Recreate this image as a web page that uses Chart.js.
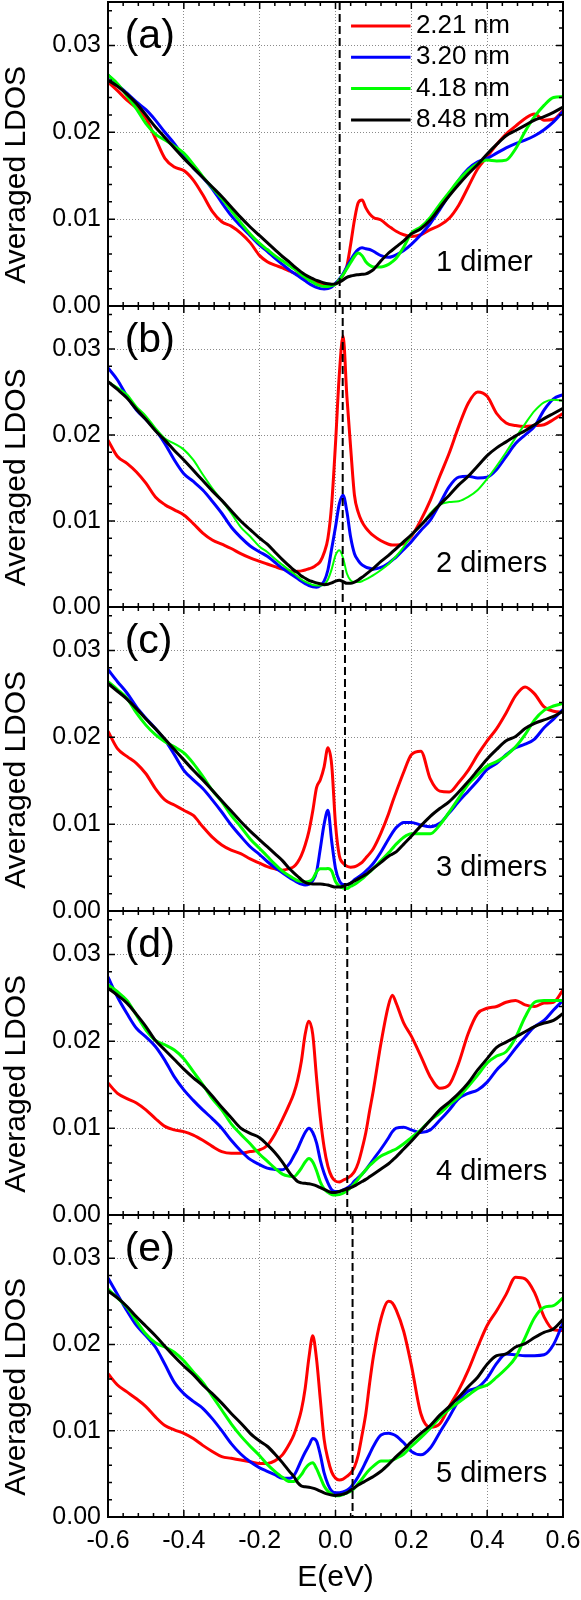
<!DOCTYPE html>
<html>
<head>
<meta charset="utf-8">
<script src="https://cdn.jsdelivr.net/npm/chart.js@4.4.1/dist/chart.umd.min.js"></script>
<style>
html, body { margin: 0; padding: 0; background: #fff; overflow: hidden; }
#wrap { position: relative; width: 581px; height: 1600px; }
#wrap canvas { position: absolute; left: 0; }
</style>
</head>
<body>
<div id="wrap"></div>
<script>
// energy grid, eV
var energy = [-0.6, -0.575, -0.55, -0.525, -0.5, -0.475, -0.45, -0.425, -0.4, -0.375, -0.35, -0.325, -0.3, -0.275, -0.25, -0.225, -0.2,
  -0.18, -0.16, -0.14, -0.12,
  -0.11, -0.1, -0.09, -0.08, -0.07, -0.06, -0.05, -0.04, -0.03, -0.02, -0.01, 0, 0.01, 0.02, 0.03, 0.04, 0.05, 0.06, 0.07, 0.08, 0.09, 0.1,
  0.12, 0.14, 0.15, 0.16, 0.18,
  0.2, 0.225, 0.25, 0.275, 0.3, 0.325, 0.35, 0.375, 0.4, 0.425, 0.45, 0.475, 0.5, 0.525, 0.55, 0.575, 0.6];

// averaged LDOS, in units of 1e-3
// (a) 1 dimer
var a221 = [25.8, 24.8, 23.7, 22.8, 21.6, 19.3, 17.0, 16.0, 15.6, 14.5, 12.8, 10.9, 9.7, 9.2, 8.4, 7.3, 5.8,
  5.1, 4.7, 4.4, 4.0,
  3.8, 3.6, 3.4, 3.2, 3.05, 2.9, 2.75, 2.6, 2.5, 2.45, 2.45, 2.55, 2.9, 3.6, 4.6, 7.1, 9.9, 11.9, 12.2, 11.3, 10.6, 10.2,
  9.9, 9.2, 8.9, 8.6, 8.2,
  8.0, 8.2, 8.8, 9.3, 10.1, 11.6, 13.7, 15.8, 17.2, 18.6, 19.8, 20.7, 21.6, 22.1, 21.4, 21.5, 22.5];
var a320 = [26.6, 25.5, 24.5, 23.5, 22.6, 21.4, 20.0, 18.7, 17.2, 15.9, 14.8, 13.5, 11.9, 10.4, 9.2, 8.1, 7.0,
  6.3, 5.5, 4.8, 4.1,
  3.8, 3.5, 3.2, 2.9, 2.6, 2.35, 2.15, 2.0, 1.95, 2.0, 2.2, 2.6, 3.1, 3.7, 4.5, 5.3, 6.0, 6.5, 6.7, 6.6, 6.5, 6.3,
  5.8, 5.6, 5.7, 5.9, 6.4,
  7.1, 8.2, 9.5, 11.1, 12.8, 14.5, 15.8, 16.6, 17.0, 17.6, 18.2, 18.7, 19.1, 19.6, 20.3, 21.2, 22.4];
var a418 = [26.6, 25.6, 24.2, 22.7, 21.0, 19.8, 19.1, 18.4, 17.6, 16.3, 14.9, 13.6, 12.4, 11.0, 9.6, 8.3, 7.2,
  6.5, 5.8, 5.2, 4.6,
  4.3, 3.95, 3.6, 3.3, 3.0, 2.75, 2.5, 2.35, 2.25, 2.25, 2.35, 2.5, 3.0, 3.6, 4.3, 5.0, 5.7, 6.1, 5.8, 5.1, 4.7, 4.5,
  4.5, 4.8, 5.1, 5.5, 6.8,
  8.4, 9.1, 10.2, 11.7, 13.1, 14.5, 15.6, 16.4, 16.8, 16.7, 16.8, 18.1, 20.1, 21.8, 23.1, 24.0, 24.1];
var a848 = [26.0, 25.3, 24.4, 23.3, 22.0, 20.6, 19.4, 18.2, 17.0, 15.9, 14.8, 13.7, 12.6, 11.4, 10.2, 9.1, 8.1,
  7.3, 6.5, 5.7, 5.0,
  4.6, 4.25, 3.9, 3.6, 3.35, 3.15, 2.95, 2.8, 2.65, 2.55, 2.5, 2.55, 2.75, 3.0, 3.3, 3.45, 3.55, 3.6, 3.65, 3.7, 3.9, 4.2,
  5.2, 6.1, 6.45, 6.8, 7.5,
  8.3, 8.9, 9.9, 11.3, 12.7, 14.0, 15.2, 16.3, 17.5, 18.6, 19.6, 20.2, 20.8, 21.4, 21.8, 22.3, 22.9];

// (b) 2 dimers
var b221 = [19.4, 17.5, 16.7, 15.7, 14.4, 12.8, 11.9, 11.3, 10.7, 9.7, 8.6, 7.8, 7.3, 6.8, 6.2, 5.7, 5.3,
  5.0, 4.7, 4.4, 4.2,
  4.1, 4.15, 4.2, 4.3, 4.45, 4.6, 4.9, 5.3, 6.3, 8.0, 12.0, 19.0, 27.0, 31.5, 24.5, 18.5, 13.0, 11.0, 9.9, 9.2, 8.7, 8.3,
  7.7, 7.3, 7.2, 7.2, 7.4,
  8.2, 10.1, 12.4, 15.2, 17.9, 21.0, 23.7, 25.0, 24.5, 22.5, 21.4, 21.1, 21.0, 21.1, 21.2, 21.8, 22.5];
var b320 = [27.8, 26.4, 24.5, 22.9, 21.8, 20.6, 19.0, 17.1, 15.5, 14.6, 13.6, 12.3, 10.9, 9.3, 8.1, 7.1, 6.4,
  5.9, 5.2, 4.5, 3.9,
  3.6, 3.3, 3.0, 2.7, 2.5, 2.35, 2.3, 2.5, 3.0, 4.3, 6.8, 9.3, 12.0, 13.0, 11.1, 8.1, 6.2, 5.4, 4.9, 4.65, 4.5, 4.4,
  4.6, 5.1, 5.45, 5.8, 6.7,
  7.6, 8.9, 10.1, 12.0, 14.0, 15.1, 15.2, 15.0, 15.1, 16.0, 17.5, 19.0, 20.0, 21.0, 22.9, 24.2, 24.7];
var b418 = [26.2, 25.5, 24.7, 23.3, 22.2, 20.8, 19.6, 19.0, 18.3, 17.1, 15.4, 13.8, 12.4, 10.9, 9.3, 8.2, 7.0,
  6.4, 5.6, 4.9, 4.2,
  3.9, 3.55, 3.2, 2.95, 2.75, 2.55, 2.5, 2.5, 2.6, 3.2, 4.4, 6.0, 6.6, 5.7, 3.9, 3.1, 2.9, 2.9, 3.0, 3.2, 3.45, 3.7,
  4.3, 5.0, 5.45, 5.9, 7.0,
  8.3, 9.5, 10.9, 11.9, 12.2, 12.3, 12.8, 13.6, 14.9, 16.4, 18.0, 19.7, 21.3, 22.8, 23.8, 24.1, 24.0];
var b848 = [26.2, 25.3, 24.3, 23.0, 21.8, 20.5, 19.4, 18.2, 17.1, 15.9, 14.7, 13.5, 12.4, 11.2, 10.0, 9.0, 8.0,
  7.3, 6.4, 5.5, 4.7,
  4.3, 4.0, 3.6, 3.35, 3.1, 2.95, 2.8, 2.7, 2.6, 2.65, 2.8, 3.0, 3.1, 2.95, 2.75, 2.75, 2.9, 3.15, 3.45, 3.8, 4.15, 4.5,
  5.3, 6.0, 6.4, 6.8, 7.6,
  8.4, 9.5, 10.7, 11.9, 13.0, 14.2, 15.2, 16.4, 17.6, 18.5, 19.2, 19.9, 20.5, 21.2, 21.9, 22.5, 23.1];

// (c) 3 dimers
var c221 = [20.7, 18.7, 17.8, 17.0, 15.8, 14.1, 12.8, 12.2, 11.6, 11.0, 9.7, 8.5, 7.6, 7.0, 6.6, 6.0, 5.5,
  5.1, 4.85, 4.7, 4.9,
  5.1, 5.6, 6.4, 7.6, 9.2, 11.5, 14.2, 15.1, 16.6, 18.8, 16.8, 10.0, 6.4, 5.5, 5.15, 5.05, 5.1, 5.3, 5.6, 6.1, 6.6, 7.2,
  9.0, 11.2, 12.5, 13.7, 16.0,
  18.0, 18.4, 15.2, 13.8, 13.7, 14.8, 16.2, 18.0, 19.6, 21.0, 22.8, 24.8, 25.8, 25.0, 23.5, 23.0, 22.9];
var c320 = [27.8, 26.4, 25.1, 23.5, 22.2, 21.0, 19.7, 18.0, 16.2, 15.1, 14.1, 12.8, 11.4, 9.9, 8.6, 7.4, 6.5,
  5.7, 5.0, 4.4, 3.8,
  3.55, 3.3, 3.1, 3.0, 3.1, 3.5, 4.5, 7.2, 10.0, 11.6, 8.0, 4.9, 3.5, 3.05, 3.05, 3.2, 3.6, 3.9, 4.2, 4.6, 5.0, 5.5,
  6.8, 8.3, 9.0, 9.6, 10.2,
  10.2, 9.9, 9.7, 10.1, 11.3, 12.6, 13.8, 15.0, 16.3, 17.0, 18.0, 18.8, 19.2, 19.8, 21.1, 22.1, 23.2];
var c418 = [26.4, 25.5, 24.5, 22.8, 21.4, 20.3, 19.5, 18.9, 18.2, 17.0, 15.5, 13.9, 12.6, 11.0, 9.7, 8.3, 7.2,
  6.3, 5.4, 4.6, 4.0,
  3.75, 3.5, 3.4, 3.35, 3.4, 3.7, 4.5, 4.85, 4.85, 4.9, 4.6, 3.4, 2.85, 2.65, 2.6, 2.85, 3.05, 3.35, 3.7, 4.1, 4.5, 4.9,
  5.8, 6.7, 7.2, 7.7, 8.5,
  8.9, 8.9, 8.9, 9.9, 11.4, 13.0, 14.6, 15.7, 16.7, 17.2, 17.9, 18.9, 20.3, 22.0, 23.1, 23.6, 23.9];
var c848 = [26.2, 25.3, 24.4, 23.3, 22.1, 21.0, 19.8, 18.6, 17.4, 16.2, 15.1, 13.9, 12.7, 11.5, 10.3, 9.2, 8.2,
  7.4, 6.6, 5.8, 4.8,
  4.4, 4.0, 3.6, 3.3, 3.15, 3.1, 3.1, 3.1, 3.05, 3.0, 2.85, 2.75, 2.75, 2.85, 3.0, 3.2, 3.45, 3.7, 3.95, 4.2, 4.55, 4.9,
  5.6, 6.3, 6.55, 6.8, 7.7,
  8.6, 9.8, 10.9, 11.8, 12.6, 13.7, 14.9, 16.2, 17.5, 18.6, 19.6, 20.1, 21.0, 21.6, 22.0, 22.4, 23.0];

// (d) 4 dimers
var d221 = [15.2, 14.0, 13.4, 12.9, 12.1, 11.1, 10.2, 9.8, 9.6, 9.2, 8.6, 7.9, 7.3, 7.1, 7.1, 7.3, 7.5,
  8.0, 9.3, 11.0, 12.9,
  14.0, 15.5, 17.7, 20.8, 22.3, 20.8, 15.8, 11.2, 7.8, 5.6, 4.4, 3.9, 3.8, 4.0, 4.2, 4.5, 5.0, 6.0, 7.6, 9.5, 12.0, 14.4,
  19.8, 24.2, 25.3, 24.4, 22.1,
  20.6, 18.3, 15.9, 14.6, 15.0, 17.5, 20.9, 23.2, 23.8, 24.0, 24.5, 24.7, 24.2, 24.0, 24.4, 24.5, 25.9];
var d320 = [27.4, 25.1, 23.2, 21.5, 20.5, 19.4, 17.8, 15.9, 14.4, 13.2, 12.1, 11.1, 10.0, 8.6, 7.4, 6.4, 5.8,
  5.4, 5.25, 5.2, 6.0,
  6.8, 7.6, 8.6, 9.5, 10.0, 9.5, 8.3, 6.3, 4.8, 3.7, 2.9, 2.7, 2.7, 2.9, 3.1, 3.4, 3.9, 4.3, 4.7, 5.2, 5.8, 6.4,
  7.6, 8.9, 9.6, 10.0, 10.1,
  9.8, 9.5, 9.8, 10.9, 12.1, 13.4, 14.0, 14.4, 15.3, 16.7, 17.8, 19.2, 20.5, 21.7, 22.4, 23.6, 24.7];
var d418 = [26.5, 25.7, 24.7, 23.0, 21.3, 20.1, 19.6, 19.0, 18.0, 16.5, 15.0, 13.4, 12.1, 10.5, 9.3, 8.2, 7.0,
  6.2, 5.4, 4.7, 4.45,
  4.4, 4.8, 5.4, 6.1, 6.5, 6.1, 5.1, 3.8, 3.0, 2.6, 2.35, 2.3, 2.35, 2.5, 2.8, 3.15, 3.6, 4.15, 4.7, 5.2, 5.7, 6.1,
  6.8, 7.2, 7.4, 7.6, 8.2,
  8.9, 9.8, 10.9, 11.7, 12.7, 13.6, 14.8, 16.1, 17.5, 18.3, 18.8, 20.4, 22.8, 24.5, 24.7, 24.7, 24.7];
var d848 = [26.1, 25.3, 24.4, 23.1, 21.7, 20.1, 19.0, 17.9, 16.8, 15.8, 14.9, 13.7, 12.4, 11.2, 10.0, 9.4, 8.9,
  8.1, 7.2, 6.1, 4.8,
  4.3, 3.85, 3.7, 3.65, 3.6, 3.5, 3.35, 3.15, 2.95, 2.75, 2.6, 2.6, 2.7, 2.85, 3.0, 3.15, 3.35, 3.6, 3.85, 4.1, 4.4, 4.7,
  5.3, 5.9, 6.3, 6.7, 7.6,
  8.5, 9.7, 10.9, 12.1, 13.0, 14.0, 15.2, 16.7, 18.0, 19.3, 19.9, 20.5, 21.1, 21.7, 22.1, 22.4, 23.2];

// (e) 5 dimers
var e221 = [16.6, 15.3, 14.5, 13.7, 12.8, 11.6, 10.6, 10.1, 9.7, 9.1, 8.3, 7.6, 7.0, 6.8, 6.6, 6.4, 6.2,
  6.2, 6.5, 7.2, 8.6,
  9.5, 10.8, 12.4, 14.9, 18.5, 21.0, 18.3, 13.6, 9.0, 6.7, 5.2, 4.5, 4.3, 4.4, 4.7, 5.1, 5.8, 7.2, 9.5, 12.0, 15.5, 18.6,
  23.0, 25.0, 24.8, 24.0, 21.5,
  17.6, 12.0, 10.4, 10.8, 12.8, 14.7, 17.0, 19.7, 22.2, 23.9, 25.8, 27.8, 27.6, 26.0, 23.2, 21.7, 21.6];
var e320 = [27.7, 25.8, 23.9, 22.2, 21.0, 19.7, 17.7, 15.6, 14.3, 13.4, 12.6, 11.4, 10.0, 8.5, 7.3, 6.4, 5.7,
  5.3, 4.9, 4.5, 4.5,
  4.8, 5.6, 6.6, 7.5, 8.3, 9.1, 8.8, 7.2, 5.1, 3.8, 3.0, 2.8, 2.8, 2.9, 3.1, 3.45, 4.0, 4.7, 5.5, 6.4, 7.3, 8.2,
  9.5, 9.7, 9.6, 9.4, 8.6,
  7.6, 7.2, 8.0, 9.8, 11.6, 13.5, 14.6, 15.0, 16.1, 17.8, 18.9, 18.8, 18.7, 18.7, 18.8, 20.0, 22.5];
var e418 = [26.4, 25.4, 24.3, 22.7, 21.2, 20.2, 19.7, 19.1, 18.1, 16.8, 15.6, 14.0, 12.4, 10.8, 9.4, 8.2, 7.1,
  6.1, 5.3, 4.6, 4.1,
  4.1, 4.4, 4.9, 5.6, 6.1, 6.3, 5.6, 4.6, 3.6, 3.0, 2.65, 2.45, 2.45, 2.6, 2.8, 3.0, 3.35, 3.9, 4.4, 5.0, 5.5, 5.9,
  6.5, 6.5, 6.6, 6.8, 7.3,
  8.2, 9.2, 10.3, 11.5, 12.5, 13.3, 14.1, 14.9, 15.3, 16.2, 17.2, 18.5, 20.8, 23.1, 24.3, 24.5, 25.4];
var e848 = [26.2, 25.4, 24.4, 23.2, 22.1, 21.0, 19.8, 18.6, 17.5, 16.5, 15.3, 14.3, 13.2, 12.0, 10.9, 9.7, 8.8,
  8.2, 7.3, 6.3, 5.2,
  4.7, 4.0, 3.6, 3.5, 3.45, 3.35, 3.2, 3.0, 2.8, 2.65, 2.55, 2.5, 2.55, 2.65, 2.8, 3.1, 3.4, 3.7, 3.95, 4.2, 4.45, 4.7,
  5.3, 6.1, 6.55, 7.0, 7.8,
  8.7, 9.7, 10.6, 11.8, 12.8, 13.9, 15.1, 16.2, 17.7, 18.7, 18.9, 19.7, 20.1, 20.8, 21.4, 21.8, 22.9];

var sizeLabels = ['2.21 nm', '3.20 nm', '4.18 nm', '8.48 nm'];
var panelTags = ['(a)', '(b)', '(c)', '(d)', '(e)'];
var panelNotes = ['1 dimer', '2 dimers', '3 dimers', '4 dimers', '5 dimers'];
var fermiLevel = [0.011, 0.019, 0.025, 0.031, 0.045];
var xTicks = [-0.6, -0.4, -0.2, 0, 0.2, 0.4, 0.6];
var yTicks = [0, 0.01, 0.02, 0.03];
var ldos = [[a221, a320, a418, a848], [b221, b320, b418, b848], [c221, c320, c418, c848],
  [d221, d320, d418, d848], [e221, e320, e418, e848]];

var lineColors = ['#ff0000', '#0000ff', '#00ff00', '#000000'];
var FONT = '"Liberation Sans", Arial, Helvetica, sans-serif';
var W = 581, plotLeft = 108, plotRight = 563;
// canvas top/bottom and plot top/bottom, px
var layout = [
  {top: 0, plotTop: 2, plotBottom: 306, bottom: 326},
  {top: 286, plotTop: 306, plotBottom: 607, bottom: 627},
  {top: 587, plotTop: 607, plotBottom: 911, bottom: 931},
  {top: 891, plotTop: 911, plotBottom: 1215, bottom: 1235},
  {top: 1195, plotTop: 1215, plotBottom: 1517, bottom: 1600}
];

Chart.defaults.font.family = FONT;
Chart.defaults.color = '#000';

var panelDeco = {
  id: 'panelDeco',
  afterDatasetsDraw: function (chart, args, opts) {
    var ctx = chart.ctx, a = chart.chartArea, xs = chart.scales.x, ys = chart.scales.y;
    var k, len;
    ctx.save();
    // Fermi level
    var fx = xs.getPixelForValue(opts.fermi);
    ctx.strokeStyle = '#000';
    ctx.lineWidth = 2;
    ctx.setLineDash([8, 4]);
    ctx.beginPath();
    ctx.moveTo(fx, a.top);
    ctx.lineTo(fx, a.bottom);
    ctx.stroke();
    ctx.setLineDash([]);
    // inward ticks on all four sides
    ctx.lineWidth = 1.5;
    ctx.beginPath();
    var nx = Math.round((xs.max - xs.min) / 0.04);
    for (k = 0; k <= nx; k++) {
      var px = xs.getPixelForValue(xs.min + k * 0.04);
      len = k % 5 === 0 ? 7 : 4;
      ctx.moveTo(px, a.top); ctx.lineTo(px, a.top + len);
      ctx.moveTo(px, a.bottom); ctx.lineTo(px, a.bottom - len);
    }
    var ny = Math.floor(ys.max / 0.002 + 1e-6);
    for (k = 0; k <= ny; k++) {
      var py = ys.getPixelForValue(k * 0.002);
      len = k % 5 === 0 ? 7 : 4;
      ctx.moveTo(a.left, py); ctx.lineTo(a.left + len, py);
      ctx.moveTo(a.right, py); ctx.lineTo(a.right - len, py);
    }
    ctx.stroke();
    ctx.lineWidth = 2;
    ctx.strokeRect(a.left, a.top, a.right - a.left, a.bottom - a.top);

    ctx.fillStyle = '#000';
    ctx.textBaseline = 'middle';
    ctx.textAlign = 'left';
    ctx.font = '41px ' + FONT;
    ctx.fillText(opts.tag, xs.getPixelForValue(-0.556), ys.getPixelForValue(0.031));
    ctx.font = '29px ' + FONT;
    ctx.fillText(opts.note, xs.getPixelForValue(0.265), ys.getPixelForValue(0.005));

    if (opts.legend) {
      ctx.font = '26px ' + FONT;
      chart.data.datasets.forEach(function (ds, i) {
        var y = a.top + 24 + i * 31.3;
        ctx.strokeStyle = ds.borderColor;
        ctx.lineWidth = 3;
        ctx.beginPath();
        ctx.moveTo(xs.getPixelForValue(0.041), y);
        ctx.lineTo(xs.getPixelForValue(0.198), y);
        ctx.stroke();
        ctx.fillText(ds.label, xs.getPixelForValue(0.212), y);
      });
    }
    ctx.restore();
  }
};

var wrap = document.getElementById('wrap');

layout.forEach(function (L, p) {
  var last = p === layout.length - 1;
  var h = L.bottom - L.top;
  var xAxisH = last ? L.bottom - L.plotBottom : 0;
  var cv = document.createElement('canvas');
  cv.width = W;
  cv.height = h;
  cv.style.top = L.top + 'px';
  cv.style.width = W + 'px';
  cv.style.height = h + 'px';
  wrap.appendChild(cv);

  var datasets = ldos[p].map(function (vals, i) {
    return {
      label: sizeLabels[i],
      data: energy.map(function (e, k) { return {x: e, y: vals[k] / 1000}; }),
      borderColor: lineColors[i],
      borderWidth: (p === 1 && i === 2) ? 2 : 3,
      pointRadius: 0,
      fill: false,
      cubicInterpolationMode: 'monotone',
      order: 3 - i
    };
  });

  new Chart(cv, {
    type: 'line',
    data: {datasets: datasets},
    options: {
      responsive: false,
      animation: false,
      devicePixelRatio: 1,
      layout: {padding: {left: 0, right: W - plotRight, top: L.plotTop - L.top, bottom: last ? 0 : L.bottom - L.plotBottom}},
      plugins: {
        legend: {display: false},
        tooltip: {enabled: false},
        panelDeco: {fermi: fermiLevel[p], tag: panelTags[p], note: panelNotes[p], legend: p === 0}
      },
      scales: {
        x: {
          type: 'linear',
          min: -0.6,
          max: 0.6,
          afterBuildTicks: function (s) { s.ticks = xTicks.map(function (v) { return {value: v}; }); },
          afterFit: function (s) { s.height = xAxisH; s.paddingLeft = 0; s.paddingRight = 0; },
          grid: {color: '#8a8a8a', lineWidth: 1, drawTicks: false},
          border: {display: false, dash: [1, 2]},
          ticks: {
            display: last,
            padding: 9,
            maxRotation: 0,
            font: {size: 25},
            callback: function (v) { return Math.abs(v) < 1e-9 ? '0.0' : v.toFixed(1); }
          },
          title: {display: last, text: 'E(eV)', font: {size: 30, lineHeight: 1.2}, padding: {top: 0, bottom: 4}}
        },
        y: {
          min: 0,
          max: 0.035,
          afterBuildTicks: function (s) { s.ticks = yTicks.map(function (v) { return {value: v}; }); },
          afterFit: function (s) { s.width = plotLeft; s.paddingTop = 0; s.paddingBottom = 0; },
          grid: {color: '#8a8a8a', lineWidth: 1, drawTicks: false},
          border: {display: false, dash: [1, 2]},
          ticks: {
            padding: 7,
            font: {size: 25},
            callback: function (v) { return v.toFixed(2); }
          },
          title: {
            display: true,
            text: 'Averaged LDOS\u00a0\u00a0\u00a0\u00a0\u00a0',
            font: {size: 30, lineHeight: 1.1},
            padding: {top: 0, bottom: 0}
          }
        }
      }
    },
    plugins: [panelDeco]
  });
});
</script>
</body>
</html>
